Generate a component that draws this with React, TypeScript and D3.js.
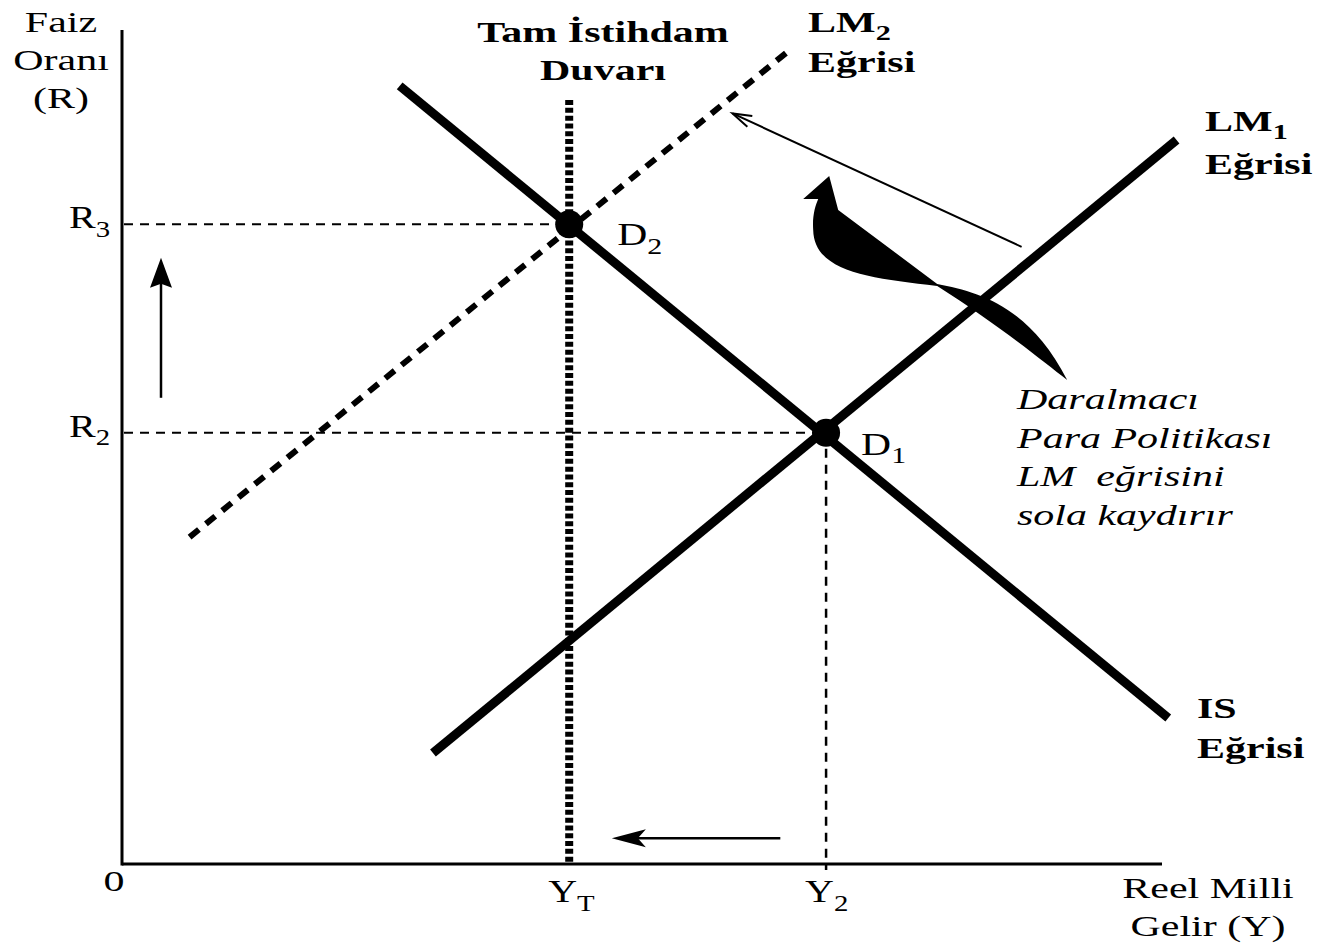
import * as d3 from "d3";

// chart units: x = real national income, y = interest rate (both 0..100)
const isCurve = [{ x: 26.7, y: 93.3 }, { x: 100.6, y: 17.5 }];
const lm1Curve = [{ x: 29.9, y: 13.3 }, { x: 101.4, y: 86.8 }];
const lm2Curve = [{ x: 6.5, y: 39.2 }, { x: 64.2, y: 97.6 }];
const wall = { x: 43, top: 91.6 };
const equilibria = [
  { name: "D", sub: "2", x: 43, y: 76.7 },
  { name: "D", sub: "1", x: 67.7, y: 51.7 },
];
const rateTicks = [{ name: "R", sub: "3", y: 76.7 }, { name: "R", sub: "2", y: 51.7 }];
const incomeTicks = [{ name: "Y", sub: "T", x: 43 }, { name: "Y", sub: "2", x: 67.7 }];
const upArrow = [{ x: 3.75, y: 55.9 }, { x: 3.75, y: 72.7 }];
const leftArrow = [{ x: 63.3, y: 3.1 }, { x: 47.1, y: 3.1 }];
const shiftArrow = [{ x: 86.5, y: 74.0 }, { x: 58.7, y: 90.0 }];
const noteLines = ["Daralmacı", "Para Politikası", "LM  eğrisini", "sola kaydırır"];

const W = 1320;
const H = 949;
const x = d3.scaleLinear().domain([0, 100]).range([122, 1162]);
const y = d3.scaleLinear().domain([0, 100]).range([864, 30]);
const line = d3.line<{ x: number; y: number }>().x(d => x(d.x)).y(d => y(d.y));

const serif = "'Liberation Serif', 'Times New Roman', serif";
const STRETCH = 1.4; // the source text is drawn wide

function Label({ tx, ty, children, sub, size = 30, anchor = "start", weight = "normal", italic = false, sx = STRETCH }: any) {
  return (
    <g transform={`translate(${tx},${ty}) scale(${sx},1)`}>
      <text fontSize={size} fontFamily={serif} fontWeight={weight} fontStyle={italic ? "italic" : "normal"}
        textAnchor={anchor} style={{ whiteSpace: "pre" }}>
        {children}
        {sub != null && <tspan fontSize={size * 0.72} dy={size * 0.27}>{sub}</tspan>}
      </text>
    </g>
  );
}

export default function App() {
  const ax0 = x(0), ay0 = y(0);
  // fat curved arrow anchored at its tip
  const tx = x(68.0), ty = y(82.5);
  const blob =
    `M0,0 L9,34 L108,108 C150,116 200,130 238,204 ` +
    `C212,184 168,148 108,110 C40,102 -15,96 -16,54 C-17,40 -14,30 -11,23 L-26,23 Z`;
  const up0 = upArrow[0], up1 = upArrow[1];
  const la0 = leftArrow[0], la1 = leftArrow[1];
  const sa0 = shiftArrow[0], sa1 = shiftArrow[1];
  const sax = x(sa1.x), say = y(sa1.y);
  const ang = Math.atan2(y(sa0.y) - say, x(sa0.x) - sax);
  const barb = (a: number) => `${sax + 20 * Math.cos(ang + a)},${say + 20 * Math.sin(ang + a)}`;

  return (
    <svg width={W} height={H} style={{ position: "absolute", left: 0, top: 0, background: "#fff" }}>
      {/* axes */}
      <line x1={ax0} x2={ax0} y1={y(100)} y2={ay0 + 1.5} stroke="#000" strokeWidth={3} />
      <line x1={ax0} x2={x(100)} y1={ay0} y2={ay0} stroke="#000" strokeWidth={3} />

      {/* guide lines */}
      {rateTicks.map((t, i) => (
        <line key={"rg" + i} x1={ax0 + 2} x2={x(equilibria[i].x)} y1={y(t.y)} y2={y(t.y)}
          stroke="#000" strokeWidth={2} strokeDasharray="9,7" />
      ))}
      <line x1={x(incomeTicks[1].x)} x2={x(incomeTicks[1].x)} y1={y(equilibria[1].y)} y2={ay0 + 6}
        stroke="#000" strokeWidth={2.5} strokeDasharray="9,7" />

      {/* full employment wall */}
      <line x1={x(wall.x)} x2={x(wall.x)} y1={y(wall.top)} y2={ay0} stroke="#000" strokeWidth={8} strokeDasharray="5,2.8" />

      {/* curves */}
      <path d={line(lm2Curve)!} stroke="#000" strokeWidth={6} strokeDasharray="12,9" fill="none" />
      <path d={line(isCurve)!} stroke="#000" strokeWidth={9} fill="none" />
      <path d={line(lm1Curve)!} stroke="#000" strokeWidth={9} fill="none" />

      {equilibria.map((e, i) => (
        <g key={"eq" + i}>
          <circle cx={x(e.x)} cy={y(e.y)} r={14} fill="#000" />
          <Label tx={x(e.x) + (i === 0 ? 48 : 35)} ty={y(e.y) + (i === 0 ? 21 : 22)} sub={e.sub} size={32} sx={1.3}>{e.name}</Label>
        </g>
      ))}

      {/* arrows */}
      <line x1={x(up0.x)} x2={x(up1.x)} y1={y(up0.y)} y2={y(up1.y) + 20} stroke="#000" strokeWidth={2.5} />
      <path d={`M${x(up1.x)},${y(up1.y)} L${x(up1.x) + 11},${y(up1.y) + 30} L${x(up1.x)},${y(up1.y) + 26} L${x(up1.x) - 11},${y(up1.y) + 30} Z`} fill="#000" />
      <line x1={x(la0.x)} x2={x(la1.x) + 20} y1={y(la0.y)} y2={y(la1.y)} stroke="#000" strokeWidth={2.5} />
      <path d={`M${x(la1.x)},${y(la1.y)} L${x(la1.x) + 34},${y(la1.y) - 9} L${x(la1.x) + 26},${y(la1.y)} L${x(la1.x) + 34},${y(la1.y) + 9} Z`} fill="#000" />
      <line x1={x(sa0.x)} x2={sax} y1={y(sa0.y)} y2={say} stroke="#000" strokeWidth={2} />
      <path d={`M${barb(0.3)} L${sax},${say} L${barb(-0.3)}`} stroke="#000" strokeWidth={2} fill="none" />
      <path d={blob} transform={`translate(${tx},${ty})`} fill="#000" />

      {/* axis texts */}
      {["Faiz", "Oranı", "(R)"].map((s, i) => (
        <Label key={"yl" + i} tx={61} ty={32 + i * 38} anchor="middle">{s}</Label>
      ))}
      {["Reel Milli", "Gelir (Y)"].map((s, i) => (
        <Label key={"xl" + i} tx={1208} ty={898 + i * 38} anchor="middle">{s}</Label>
      ))}
      <Label tx={114} ty={891} anchor="middle">0</Label>
      {rateTicks.map((t, i) => (
        <Label key={"rt" + i} tx={69} ty={y(t.y) + 4} sub={t.sub} size={32} sx={1.25}>{t.name}</Label>
      ))}
      {incomeTicks.map((t, i) => (
        <Label key={"it" + i} tx={x(t.x) - 21} ty={902} sub={t.sub} size={32} sx={1.25}>{t.name}</Label>
      ))}

      {/* curve labels */}
      {["Tam İstihdam", "Duvarı"].map((s, i) => (
        <Label key={"w" + i} tx={603} ty={42 + i * 38} weight="bold" anchor="middle">{s}</Label>
      ))}
      <Label tx={808} ty={32} sub="2" weight="bold">LM</Label>
      <Label tx={808} ty={72} weight="bold">Eğrisi</Label>
      <Label tx={1205} ty={131} sub="1" weight="bold">LM</Label>
      <Label tx={1205} ty={174} weight="bold">Eğrisi</Label>
      <Label tx={1197} ty={718} weight="bold">IS</Label>
      <Label tx={1197} ty={758} weight="bold">Eğrisi</Label>

      {noteLines.map((s, i) => (
        <Label key={"n" + i} tx={1017} ty={409 + i * 38.5} italic>{s}</Label>
      ))}
    </svg>
  );
}
